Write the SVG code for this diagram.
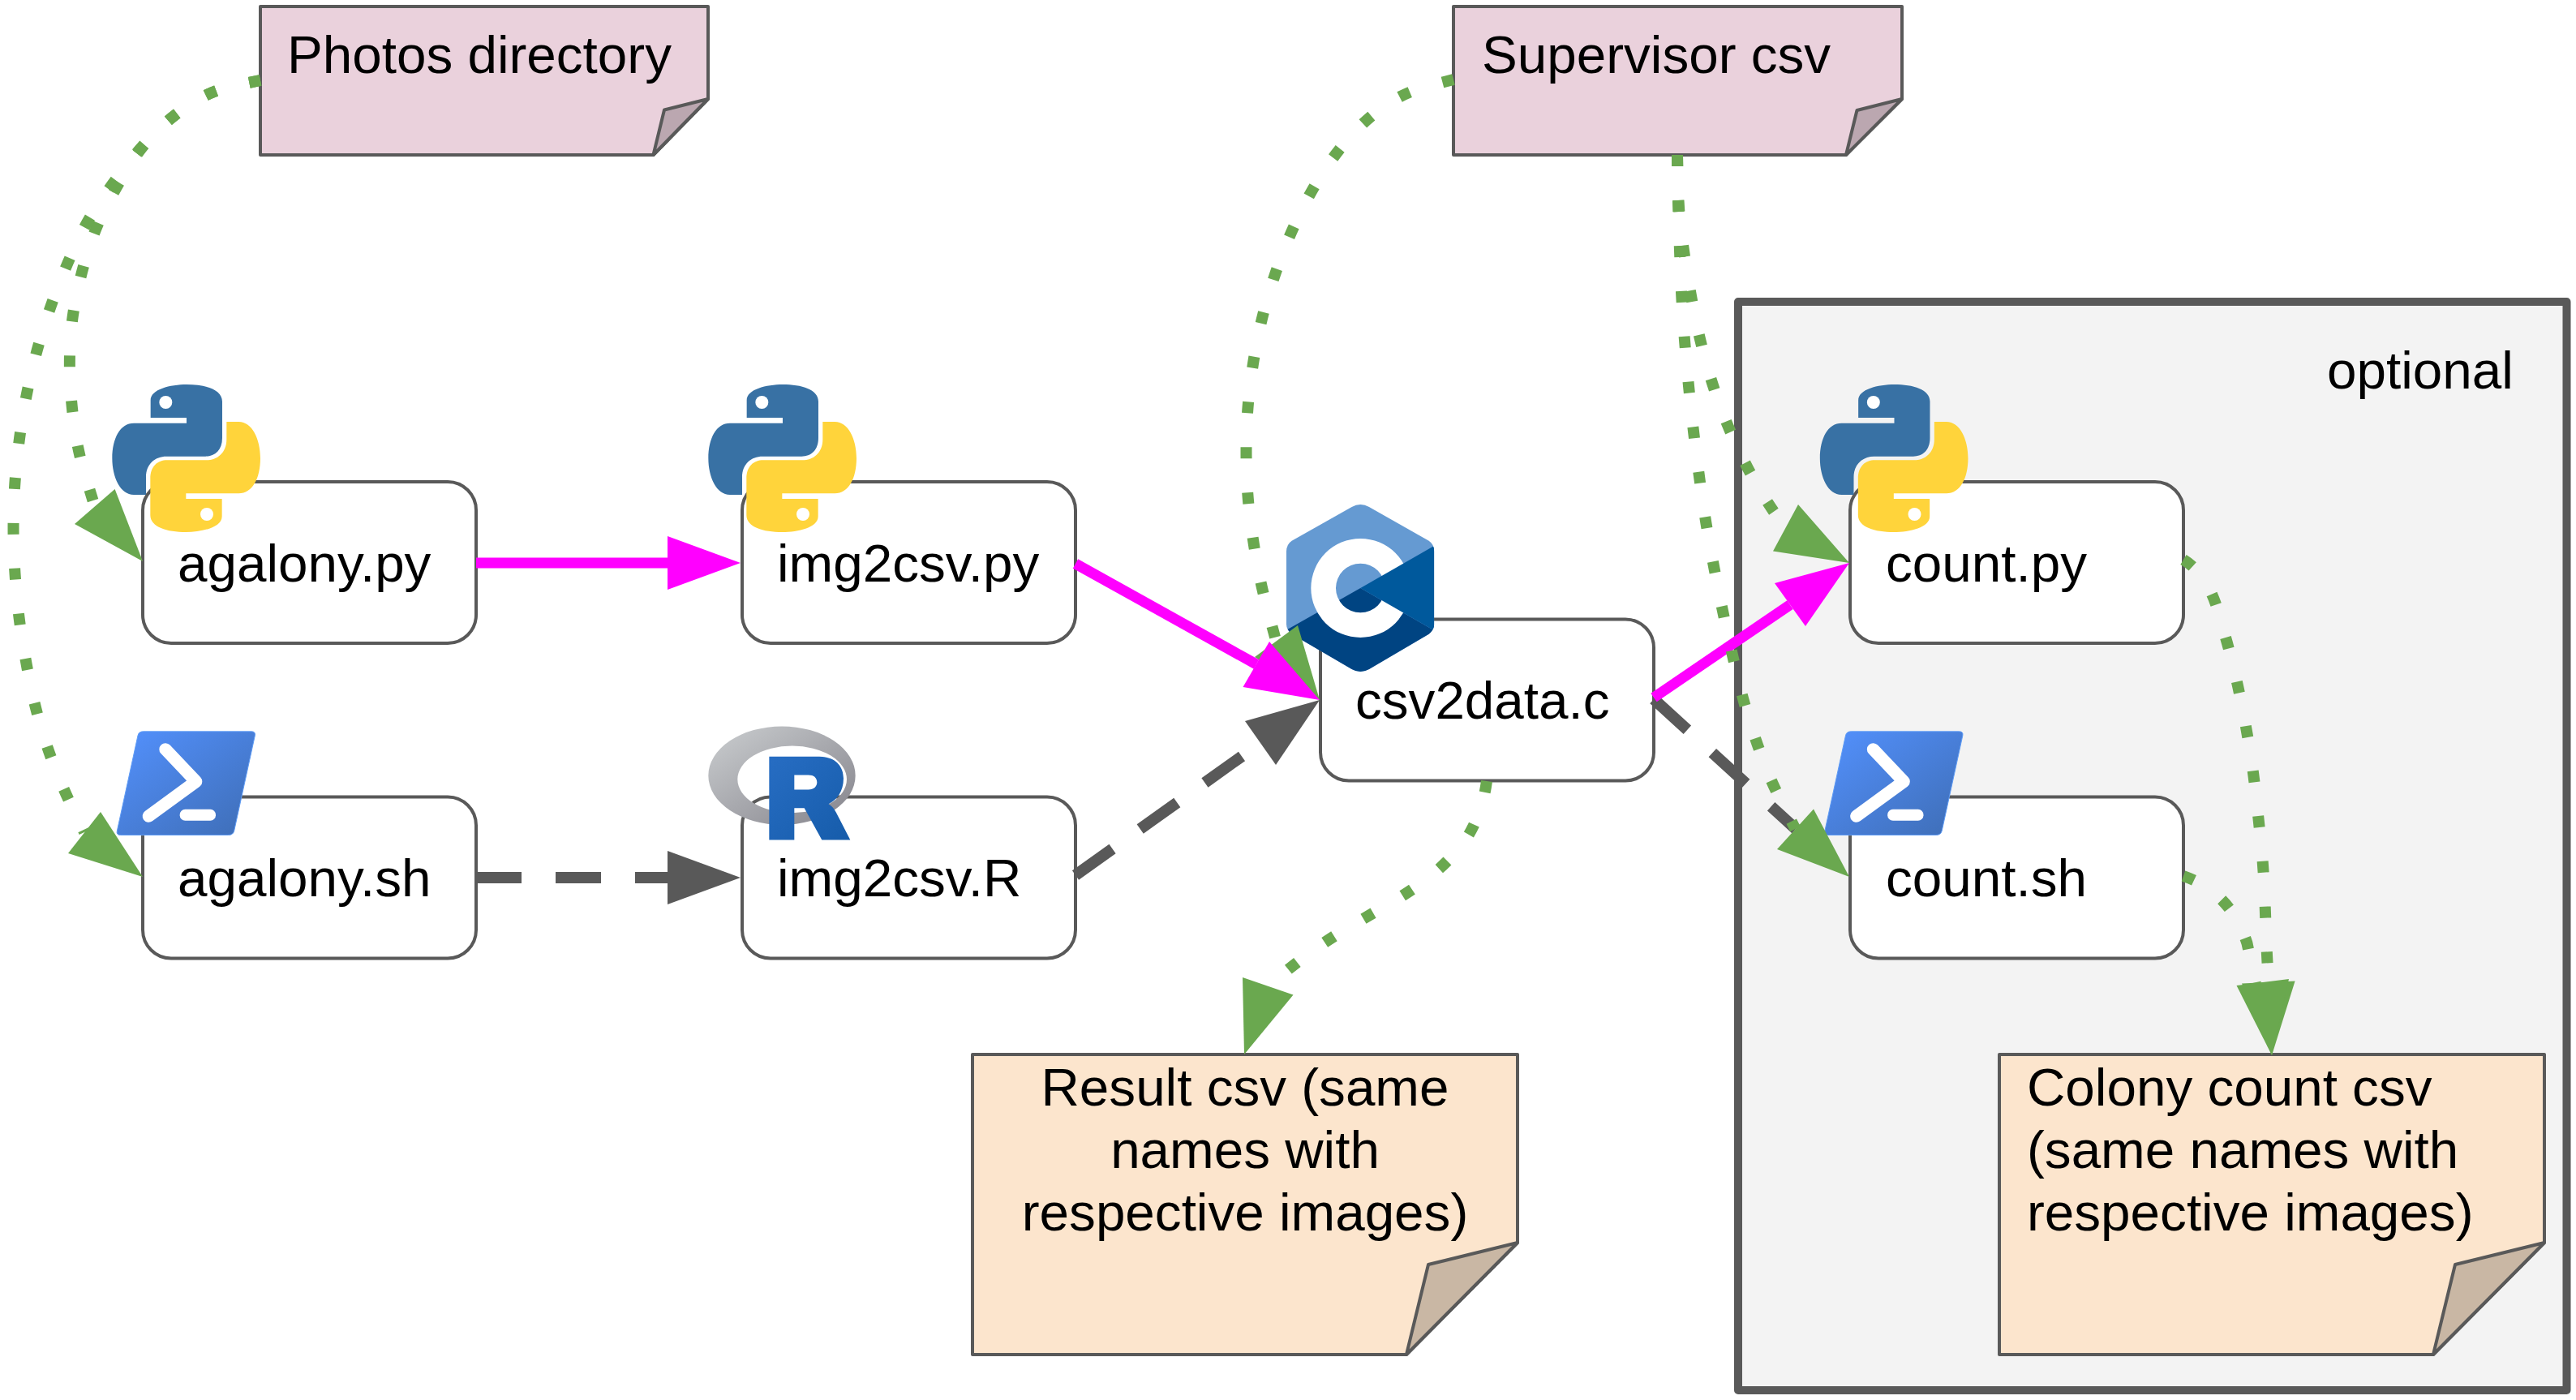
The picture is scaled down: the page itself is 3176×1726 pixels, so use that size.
<svg xmlns="http://www.w3.org/2000/svg" width="3176" height="1726" viewBox="0 0 3176 1726">
<style>
text{font-family:"Liberation Sans",Arial,sans-serif;font-size:65.6px;fill:#000}
.n{fill:#fff;stroke:#595959;stroke-width:4}
.pk{fill:#ead1dc;stroke:#595959;stroke-width:4;stroke-linejoin:round}
.pkf{fill:#bba7b0;stroke:#595959;stroke-width:4;stroke-linejoin:round}
.pe{fill:#fce5cd;stroke:#595959;stroke-width:4;stroke-linejoin:round}
.pef{fill:#c9b7a4;stroke:#595959;stroke-width:4;stroke-linejoin:round}
.dot{fill:none;stroke:#6aa84f;stroke-width:14;stroke-dasharray:14 42}
.dash{fill:none;stroke:#595959;stroke-width:14;stroke-dasharray:56 42}
.sol{fill:none;stroke:#ff00ff;stroke-width:13}
.gh{fill:#6aa84f}.dh{fill:#595959}.mh{fill:#ff00ff}
</style>
<defs>
<linearGradient id="psg" x1="0" y1="0" x2="1" y2="1"><stop offset="0" stop-color="#5391fe"/><stop offset="1" stop-color="#3e6db5"/></linearGradient>
<linearGradient id="rg1" x1="0" y1="0" x2="1" y2="1"><stop offset="0" stop-color="#cbced0"/><stop offset="1" stop-color="#84838b"/></linearGradient>
<linearGradient id="rg2" x1="0" y1="0" x2="1" y2="1"><stop offset="0" stop-color="#276dc3"/><stop offset="1" stop-color="#165caa"/></linearGradient>
<clipPath id="hexc"><path d="M290 45Q322 27 354 45L575 170Q595 183 595 210V478Q595 500 575 515L354 645Q322 663 290 645L68 515Q48 500 48 478V210Q48 183 68 170Z"/></clipPath>
<g id="py" transform="scale(.3333)">
<g id="py-half"><path fill="#3871a4" d="M197 165V100C197 60 270 42 330 42C400 42 462 60 462 105V240C462 285 435 308 400 308H255C215 308 180 335 180 385V450H135C85 450 55 385 55 315C55 240 85 185 135 185H330V165Z"/><circle cx="253" cy="108" r="24" fill="#fff"/></g>
<g transform="rotate(180 329 315)"><path fill="#ffd43b" d="M197 165V100C197 60 270 42 330 42C400 42 462 60 462 105V240C462 285 435 308 400 308H255C215 308 180 335 180 385V450H135C85 450 55 385 55 315C55 240 85 185 135 185H330V165Z"/><circle cx="253" cy="108" r="24" fill="#fff"/></g>
</g>
<g id="ps" transform="scale(.3333)">
<path fill="url(#psg)" stroke="#5e9cf5" stroke-width="3" d="M140 37H540Q556 37 553 52L476 405Q472 420 455 420H55Q40 420 43 405L120 52Q123 37 140 37Z"/>
<path fill="none" stroke="#fff" stroke-width="46" stroke-linecap="round" stroke-linejoin="round" d="M222 103L335 222L160 350"/>
<rect x="275" y="325" width="133" height="42" rx="20" fill="#fff"/>
</g>
<g id="r" transform="scale(.3333)">
<path fill="url(#rg1)" fill-rule="evenodd" d="M40 230A272 182 0 1 1 584 230A272 182 0 1 1 40 230ZM148 244A202 124 0 1 0 552 244A202 124 0 1 0 148 244Z"/>
<path fill="url(#rg2)" fill-rule="evenodd" d="M265 160H450C510 160 540 195 540 240C540 290 515 320 485 335C497 342 505 352 512 365L565 468H460L395 350H358V468H265ZM358 228V282H410C430 282 442 270 442 255C442 238 430 228 410 228Z"/>
</g>
<g id="c" transform="scale(.3333)">
<g clip-path="url(#hexc)">
<rect x="40" y="30" width="560" height="640" fill="#659ad2"/>
<path fill="#004482" d="M322 345L600 505V670H40V505Z"/>
<path fill="#fff" fill-rule="evenodd" d="M139 345A183 183 0 1 1 505 345A183 183 0 1 1 139 345ZM231 345A91 91 0 1 0 413 345A91 91 0 1 0 231 345Z"/>
<path fill="#00599c" d="M322 345L600 186V505Z"/>
</g>
</g>
</defs>
<rect width="3176" height="1726" fill="#fff"/>
<g id="optional-group">
<rect x="2143" y="372" width="1021.5" height="1342" fill="#f3f3f3" stroke="#595959" stroke-width="10" stroke-linejoin="round"/>
<text x="2869" y="479">optional</text>
</g>
<g id="photos-directory"><path class="pk" d="M321 8H873V122L805.5 191H321Z"/><path class="pkf" d="M805.5 191L819 135.5L873 122Z"/><text x="354" y="90">Photos directory</text></g>
<g id="supervisor-csv"><path class="pk" d="M1792 8H2345V122L2276 191H1792Z"/><path class="pkf" d="M2276 191L2289.5 136L2345 122Z"/><text x="1827" y="90">Supervisor csv</text></g>
<g id="result-csv"><path class="pe" d="M1199 1300H1871V1532L1734 1670H1199Z"/><path class="pef" d="M1734 1670L1761 1559L1871 1532Z"/><text x="1535" y="1363" text-anchor="middle">Result csv (same</text><text x="1535" y="1440" text-anchor="middle">names with</text><text x="1535" y="1517" text-anchor="middle">respective images)</text></g>
<g id="colony-count-csv"><path class="pe" d="M2465 1300H3137V1532L3000 1670H2465Z"/><path class="pef" d="M3000 1670L3027 1559L3137 1532Z"/><text x="2499" y="1363">Colony count csv</text><text x="2499" y="1440">(same names with</text><text x="2499" y="1517">respective images)</text></g>
<g id="agalony-py"><rect class="n" x="176" y="594" width="411" height="199" rx="35"/><use href="#py" transform="translate(120 460)"/><text x="219" y="717">agalony.py</text></g>
<g id="agalony-sh"><rect class="n" x="176" y="982.5" width="411" height="199" rx="35"/><use href="#ps" transform="translate(130 889.5)"/><text x="219" y="1105">agalony.sh</text></g>
<g id="img2csv-py"><rect class="n" x="915" y="594" width="411" height="199" rx="35"/><use href="#py" transform="translate(855 460)"/><text x="958" y="717">img2csv.py</text></g>
<g id="img2csv-r"><rect class="n" x="915" y="982.5" width="411" height="199" rx="35"/><use href="#r" transform="translate(860 879.5)"/><text x="958" y="1105">img2csv.R</text></g>
<g id="csv2data-c"><rect class="n" x="1628" y="763.5" width="411" height="199" rx="35"/><use href="#c" transform="translate(1570 610)"/><text x="1671" y="886">csv2data.c</text></g>
<g id="count-py"><rect class="n" x="2281" y="594" width="411" height="199" rx="35"/><use href="#py" transform="translate(2225.5 460)"/><text x="2325" y="717">count.py</text></g>
<g id="count-sh"><rect class="n" x="2281" y="982.5" width="411" height="199" rx="35"/><use href="#ps" transform="translate(2235.5 889.5)"/><text x="2325" y="1105">count.sh</text></g>
<g id="connectors">
<path class="dot" d="M321 99L287 106Q260 112 236 127.5Q212 143 192.5 162.5Q173 182 158 206.5Q143 231 130.5 255.5Q118 280 109.5 306.5Q101 333 95 360.5Q89 388 87 416Q85 444 86.5 472Q88 500 92 528Q96 556 104 582.5Q112 609 117 625"/>
<polygon class="gh" points="92,646 141.6,603 176,692"/>
<path class="dot" d="M321 99L287 106Q260 112 236 127.5Q212 143 192.5 162.5Q173 182 156 204Q139 226 123.5 248.5Q108 271 96 296.5Q84 322 73.5 348.5Q63 375 54.5 402Q46 429 39.5 456Q33 483 28.5 510.5Q24 538 21 566Q18 594 17 622Q16 650 17 677.5Q18 705 20.5 733Q23 761 27.5 789Q32 817 37.5 844Q43 871 51 898Q59 925 69.5 951Q80 977 92 1001.5L104 1026"/>
<polygon class="gh" points="84,1052 124,1001 176,1081"/>
<path class="dot" d="M1792 98L1758 107Q1731.5 114 1708 130Q1685 146 1666.5 166.5Q1648 187 1632.5 210.5Q1617 234 1605 259Q1592.5 284 1582 310.5Q1572 337 1564 363.5Q1556 390 1550.5 417.5Q1545 445 1541.5 473Q1538 501 1537 529Q1536 557 1537 585Q1538 613 1541.5 640.5Q1545 668 1550 695.5Q1555 723 1562.5 750.5L1573.5 791"/>
<polygon class="gh" points="1547,810 1600,771 1627,863"/>
<path class="dot" d="M1833 963Q1830 985 1825 996Q1817 1024 1799.5 1045Q1782 1066 1760 1083Q1737.5 1100 1713 1114Q1689 1128 1665 1142Q1641 1156 1618 1172.5Q1595 1189 1563 1216"/>
<polygon class="gh" points="1532,1205 1594.5,1226.5 1534,1300"/>
<path class="dash" d="M587 1082H823"/><polygon class="dh" points="823,1049 823,1115 913,1082"/>
<path class="dash" d="M1326 1079L1554 916"/><polygon class="dh" points="1535,889 1573,943 1627,863"/>
<path class="dash" d="M2039 862L2214 1022"/>
<path class="sol" d="M587 694H823"/><polygon class="mh" points="823,661 823,727 913,694"/>
<path class="sol" d="M1326 695L1549 819"/><polygon class="mh" points="1532.5,847 1565,791 1627,863"/>
<path class="sol" d="M2039 860L2207 745.6"/><polygon class="mh" points="2188,719 2226,772 2280,694"/>
<path class="dot" d="M2068 191L2068.5 226Q2069 253.5 2070 281Q2071 309 2072 337Q2073 365 2075 393Q2077 421 2079.5 449Q2082 477 2085 505Q2088 533 2091.5 560.5Q2095 588 2099 616Q2103 644 2108 671.5Q2113 699 2118.5 726.5Q2124 754 2130 781Q2136 808 2142.5 835.5Q2149 863 2157.5 890Q2166 917 2176 943Q2186 969 2200 995.5L2213.5 1022"/>
<polygon class="gh" points="2191,1047 2236,997.5 2280,1081"/>
<path class="dot" d="M2068 191L2068.5 226Q2069.5 253.5 2072 281Q2076 309 2080 337Q2085 365 2090 392Q2096 419 2103 446Q2111 473 2120 499Q2130 525.5 2142 551Q2154 577 2168 601Q2182 625 2201.5 651"/>
<polygon class="gh" points="2186,679.6 2217,622 2280,694"/>
<path class="dot" d="M2692 690Q2725 710 2738 766Q2746.5 793 2753 820Q2760 848 2765 875Q2770.5 903 2775 931Q2779 958.5 2782 986Q2785 1014 2788 1042Q2790.5 1070 2792 1098Q2793 1126 2794 1154Q2795 1182 2797 1211"/>
<polygon class="gh" points="2764,1212.5 2829.6,1209.5 2801,1301"/>
<path class="dot" d="M2692 1080Q2750 1100 2770.5 1163L2781 1213"/>
<polygon class="gh" points="2757.5,1215 2822,1207 2801,1301"/>
</g>
</svg>
